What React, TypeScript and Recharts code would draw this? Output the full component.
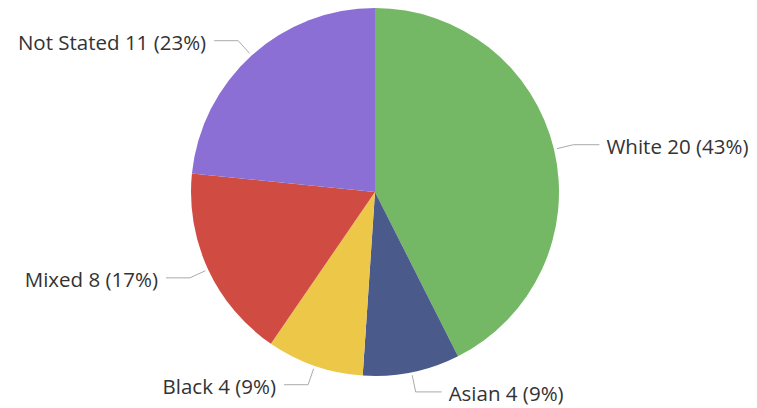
import React from "react";
import { PieChart, Pie, Cell } from "recharts";

const categories = ["White", "Asian", "Black", "Mixed", "Not Stated"];
const values = [20, 4, 4, 8, 11];
const percents = [43, 9, 9, 17, 23];
const colors = ["#74b865", "#4a5a8a", "#ecc748", "#d04c42", "#8c6fd4"];

const data = categories.map((name, i) => ({ name, value: values[i], pct: percents[i] }));

const RADIAN = Math.PI / 180;

const renderLabel = (props: any) => {
  const { cx, cy, midAngle, outerRadius, index } = props;
  const cos = Math.cos(-midAngle * RADIAN);
  const sin = Math.sin(-midAngle * RADIAN);
  const x0 = cx + (outerRadius + 3) * cos;
  const y0 = cy + (outerRadius + 3) * sin;
  const x1 = cx + (outerRadius + 20) * cos;
  const y1 = cy + (outerRadius + 20) * sin;
  const right = cos >= 0;
  const x2 = x1 + (right ? 26 : -24);
  const tx = x2 + (right ? 7 : -8);
  const d = data[index];
  return (
    <g key={`lbl-${index}`}>
      <path d={`M${x0},${y0}L${x1},${y1}L${x2},${y1}`} stroke="#aaaaaa" strokeWidth={1} fill="none" />
      <text
        x={tx}
        y={y1 + 1}
        textAnchor={right ? "start" : "end"}
        dominantBaseline="central"
        fill="#333333"
        fontSize={20.5}
        fontFamily="'Open Sans', sans-serif"
      >
        {`${d.name} ${d.value} (${d.pct}%)`}
      </text>
    </g>
  );
};

export default function App() {
  return (
    <div style={{ position: "absolute", left: 0, top: 0, width: 757, height: 408, background: "#fff" }}>
      <PieChart width={757} height={408} margin={{ top: 0, right: 0, bottom: 0, left: 0 }}>
        <Pie
          data={data}
          dataKey="value"
          nameKey="name"
          cx={375}
          cy={192}
          outerRadius={184}
          startAngle={90}
          endAngle={-270}
          stroke="none"
          label={renderLabel}
          labelLine={false}
          isAnimationActive={false}
        >
          {data.map((d, i) => (
            <Cell key={d.name} fill={colors[i]} />
          ))}
        </Pie>
      </PieChart>
    </div>
  );
}
